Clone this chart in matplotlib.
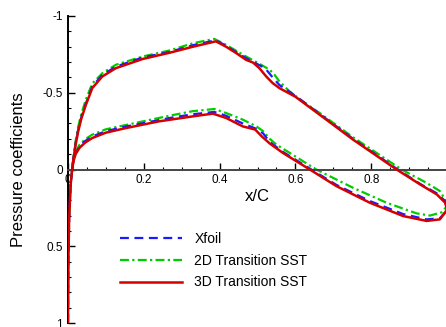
import matplotlib
matplotlib.use('Agg')
from matplotlib import pyplot as plt
from matplotlib.ticker import MultipleLocator

plt.rcParams['font.family'] = ['Liberation Sans', 'DejaVu Sans']

# Xfoil
xfoil_upper_x = [0.0, 0.001, 0.003, 0.007, 0.011, 0.015, 0.02, 0.027, 0.035, 0.047, 0.064, 0.09, 0.126,
                 0.197, 0.267, 0.33, 0.39, 0.417, 0.47, 0.497, 0.52, 0.54, 0.558, 0.6, 0.664, 0.752,
                 0.87, 0.93, 0.973, 0.995, 1.0]
xfoil_upper_cp = [1.0, 0.6, 0.32, 0.1, 0.0, -0.085, -0.17, -0.26, -0.34, -0.43, -0.54, -0.615, -0.67,
                  -0.73, -0.765, -0.81, -0.842, -0.806, -0.725, -0.69, -0.66, -0.60, -0.55, -0.48,
                  -0.362, -0.2, 0.0, 0.095, 0.155, 0.205, 0.25]
xfoil_lower_x = [0.011, 0.014, 0.02, 0.03, 0.045, 0.064, 0.1, 0.153, 0.267, 0.329, 0.386, 0.417, 0.461,
                 0.497, 0.515, 0.532, 0.567, 0.642, 0.708, 0.796, 0.884, 0.946, 0.981, 0.995, 1.0]
xfoil_lower_cp = [0.0, -0.055, -0.105, -0.148, -0.185, -0.215, -0.25, -0.28, -0.335, -0.36, -0.375,
                  -0.35, -0.3, -0.265, -0.235, -0.18, -0.115, 0.0, 0.1, 0.205, 0.29, 0.325, 0.318,
                  0.28, 0.25]

# 2D transition SST
sst2d_upper_x = [0.0, 0.001, 0.003, 0.007, 0.011, 0.015, 0.02, 0.027, 0.035, 0.047, 0.064, 0.091, 0.126,
                 0.197, 0.267, 0.329, 0.386, 0.417, 0.47, 0.497, 0.532, 0.545, 0.558, 0.585, 0.619,
                 0.664, 0.752, 0.88, 0.946, 0.981, 0.995, 1.0]
sst2d_upper_cp = [1.0, 0.6, 0.32, 0.1, 0.0, -0.09, -0.185, -0.28, -0.36, -0.455, -0.56, -0.628,
                  -0.682, -0.736, -0.775, -0.822, -0.851, -0.812, -0.736, -0.70, -0.65, -0.617,
                  -0.573, -0.508, -0.444, -0.368, -0.21, 0.0, 0.087, 0.14, 0.195, 0.24]
sst2d_lower_x = [0.011, 0.014, 0.02, 0.03, 0.045, 0.064, 0.1, 0.153, 0.267, 0.329, 0.386, 0.417, 0.461,
                 0.497, 0.515, 0.532, 0.55, 0.585, 0.655, 0.752, 0.84, 0.92, 0.955, 0.985, 1.0]
sst2d_lower_cp = [0.0, -0.06, -0.115, -0.16, -0.197, -0.227, -0.262, -0.29, -0.35, -0.38, -0.394,
                  -0.368, -0.325, -0.281, -0.25, -0.2, -0.162, -0.108, 0.0, 0.119, 0.216, 0.286,
                  0.30, 0.28, 0.24]

# 3D transition SST
sst3d_upper_x = [0.0, 0.001, 0.003, 0.007, 0.011, 0.015, 0.02, 0.027, 0.035, 0.047, 0.064, 0.09, 0.126,
                 0.197, 0.267, 0.33, 0.39, 0.417, 0.444, 0.47, 0.488, 0.505, 0.523, 0.54, 0.558, 0.6,
                 0.664, 0.752, 0.867, 0.929, 0.973, 0.995, 1.0]
sst3d_upper_cp = [1.0, 0.6, 0.32, 0.1, 0.0, -0.08, -0.16, -0.25, -0.33, -0.42, -0.53, -0.605, -0.66,
                  -0.72, -0.76, -0.80, -0.835, -0.80, -0.758, -0.714, -0.697, -0.66, -0.606, -0.563,
                  -0.53, -0.474, -0.357, -0.195, 0.0, 0.097, 0.162, 0.216, 0.26]
sst3d_lower_x = [0.011, 0.014, 0.02, 0.03, 0.045, 0.064, 0.1, 0.153, 0.241, 0.329, 0.382, 0.417, 0.461,
                 0.494, 0.512, 0.532, 0.567, 0.638, 0.708, 0.796, 0.884, 0.946, 0.981, 0.995, 1.0]
sst3d_lower_cp = [0.0, -0.05, -0.1, -0.14, -0.175, -0.205, -0.24, -0.27, -0.314, -0.346, -0.364,
                  -0.336, -0.281, -0.26, -0.214, -0.17, -0.108, 0.0, 0.108, 0.216, 0.303, 0.335,
                  0.325, 0.28, 0.26]

fig = plt.figure(figsize=(4.46, 3.27), dpi=100)
ax = fig.add_axes([68/446, 4/327, 379/446, 307/327])

# green first so the red line sits on top
ax.plot(sst2d_upper_x, sst2d_upper_cp, color='#00cc00', lw=1.6, dashes=(4, 1.5, 1, 1.5),
        label='2D Transition SST', zorder=2)
ax.plot(sst2d_lower_x, sst2d_lower_cp, color='#00cc00', lw=1.6, dashes=(4, 1.5, 1, 1.5), zorder=2)
ax.plot(xfoil_upper_x, xfoil_upper_cp, color='#1a1aff', lw=1.6, dashes=(4, 2.5),
        label='Xfoil', zorder=3)
ax.plot(xfoil_lower_x, xfoil_lower_cp, color='#1a1aff', lw=1.6, dashes=(4, 2.5), zorder=3)
ax.plot(sst3d_upper_x, sst3d_upper_cp, color='#d40000', lw=1.8, label='3D Transition SST', zorder=4)
ax.plot(sst3d_lower_x, sst3d_lower_cp, color='#d40000', lw=1.8, zorder=4)

ax.set_xlim(0, 1)
ax.set_ylim(1, -1)

# axes cross at Cp = 0
for s in ['top', 'right']:
    ax.spines[s].set_visible(False)
ax.spines['bottom'].set_position(('data', 0))
ax.spines['bottom'].set_color('#444444')
ax.spines['bottom'].set_linewidth(1.4)
ax.spines['left'].set_linewidth(1.4)

ax.xaxis.set_minor_locator(MultipleLocator(0.05))
ax.yaxis.set_minor_locator(MultipleLocator(0.1))
ax.set_xticks([0, 0.2, 0.4, 0.6, 0.8, 1.0])
ax.set_xticklabels(['0', '0.2', '0.4', '0.6', '0.8', '1'])
ax.set_yticks([-1, -0.5, 0, 0.5, 1])
ax.set_yticklabels(['-1', '-0.5', '0', '0.5', '1'])
ax.tick_params(which='major', direction='in', length=5, width=1, labelsize=8.5, pad=3.5)
ax.tick_params(which='minor', direction='in', length=2.5, width=0.8)

ax.set_xlabel('x/C', fontsize=12)
ax.xaxis.set_label_coords(0.5, 0.435)
ax.set_ylabel('Pressure coefficients', fontsize=12)
ax.yaxis.set_label_coords(-0.112, 0.5)

handles, labels = ax.get_legend_handles_labels()
order = [1, 0, 2]
ax.legend([handles[i] for i in order], [labels[i] for i in order], loc='upper left',
          bbox_to_anchor=(0.137, 0.296), frameon=False, fontsize=10, handlelength=4.5,
          handletextpad=0.85, labelspacing=0.55, borderpad=0, borderaxespad=0)

plt.savefig('out.png', dpi=100)
